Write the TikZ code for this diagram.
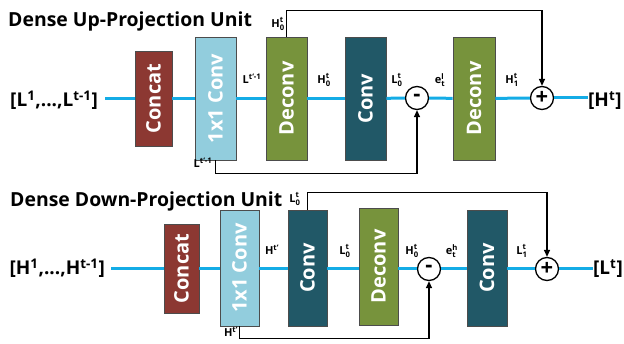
\documentclass[tikz,border=0pt]{standalone}
\usepackage{fontspec}
\setmainfont{Open Sans}
\usepackage{amsmath}
\usetikzlibrary{arrows.meta}
\definecolor{cconcat}{RGB}{140,56,50}
\definecolor{conexone}{RGB}{146,205,221}
\definecolor{cdeconv}{RGB}{119,147,60}
\definecolor{cconv}{RGB}{33,88,103}
\definecolor{cline}{RGB}{20,172,230}
\newcommand\lab[3]{${\text{#1}\vphantom{\text{H}}}^{\text{#2}}_{\text{#3}}$}
\begin{document}
\begin{tikzpicture}[x=1pt,y=-1pt,
  blk/.style={draw=gray!60!black, line width=0.6pt, text=white, inner sep=0pt,
    font=\fontsize{20}{20}\selectfont\bfseries},
  opc/.style={circle, draw=black, fill=white, line width=1.3pt, minimum size=23pt,
    inner sep=0pt, font=\fontsize{22}{22}\selectfont\bfseries},
  sm/.style={font=\fontsize{11}{11}\selectfont\bfseries, inner sep=0pt},
  ttl/.style={font=\fontsize{19.4}{19.4}\selectfont\bfseries, inner sep=0pt},
  io/.style={font=\fontsize{19}{19}\selectfont\bfseries, inner sep=0pt},
  bl/.style={draw=cline, line width=3pt},
  conn/.style={draw=black, line width=1.3pt},
  arr/.style={conn, -{Triangle[length=7pt,width=6pt]}}
]
\useasboundingbox (0,0) rectangle (624,344);

% ---------- Up-projection ----------
\node[ttl, anchor=base west] (t1) at (8,27) {Dense Up-Projection Unit};
\node[io, anchor=base east] (in1) at (98,107) {[L\textsuperscript{1},...,L\textsuperscript{t-1}]};
\node[io, anchor=base west] (out1) at (588,107) {[H\textsuperscript{t}]};

\node[blk, fill=cconcat, minimum width=37pt, minimum height=95pt] (cat1) at (153.5,98.5) {\rotatebox{90}{Concat}};
\node[blk, fill=conexone, minimum width=41pt, minimum height=123pt] (one1) at (215.5,98.5) {\rotatebox{90}{1x1 Conv}};
\node[blk, fill=cdeconv, minimum width=41pt, minimum height=123pt] (dec1) at (286.5,98.5) {\rotatebox{90}{Deconv}};
\node[blk, fill=cconv, minimum width=41pt, minimum height=123pt] (cnv1) at (365.5,98.5) {\rotatebox{90}{Conv}};
\node[opc] (min1) at (417,98) {\raisebox{1pt}{-}};
\node[blk, fill=cdeconv, minimum width=42pt, minimum height=123pt] (dec2) at (474,98.5) {\rotatebox{90}{Deconv}};
\node[opc] (pls1) at (542,98) {+};

\draw[bl] (in1.east |- cat1.west) ++(7,0) -- (cat1.west);
\draw[bl] (cat1) -- (one1);
\draw[bl] (one1) -- (dec1);
\draw[bl] (dec1) -- (cnv1);
\draw[bl] (cnv1) -- (min1);
\draw[bl] (min1) -- (dec2);
\draw[bl] (dec2) -- (pls1);
\draw[bl] (pls1) -- (out1.west |- pls1.east);

\draw[arr] (dec1.north) -- ++(0,-26) -| (pls1.north);
\draw[arr] (one1.south) -- ++(0,13) -| (min1.south);

\node[sm] (l1a) at (252,80) {\lab{L}{t`-1}{}};
\node[sm] (l1b) at (324,80) {\lab{H}{t}{0}};
\node[sm] (l1c) at (397,80) {\lab{L}{t}{0}};
\node[sm] (l1d) at (440,80) {\lab{e}{l}{t}};
\node[sm] (l1e) at (512,80) {\lab{H}{t}{1}};
\node[sm] (l1f) at (278,24) {\lab{H}{t}{0}};
\node[sm] (l1g) at (203,164) {\lab{L}{t`-1}{}};

% ---------- Down-projection ----------
\node[ttl, anchor=base west] (t2) at (10,207) {Dense Down-Projection Unit};
\node[io, anchor=base east] (in2) at (105,275) {[H\textsuperscript{1},...,H\textsuperscript{t-1}]};
\node[io, anchor=base west] (out2) at (593,275) {[L\textsuperscript{t}]};

\node[blk, fill=cconcat, minimum width=35pt, minimum height=89pt] (cat2) at (181.5,268.5) {\rotatebox{90}{Concat}};
\node[blk, fill=conexone, minimum width=39pt, minimum height=116pt] (one2) at (239.5,268) {\rotatebox{90}{1x1 Conv}};
\node[blk, fill=cconv, minimum width=39pt, minimum height=116pt] (cnv2) at (307.5,268) {\rotatebox{90}{Conv}};
\node[blk, fill=cdeconv, minimum width=39pt, minimum height=117pt] (dec3) at (378.5,266.5) {\rotatebox{90}{Deconv}};
\node[opc] (min2) at (429,269) {\raisebox{1pt}{-}};
\node[blk, fill=cconv, minimum width=40pt, minimum height=116pt] (cnv3) at (487,268) {\rotatebox{90}{Conv}};
\node[opc] (pls2) at (547,269) {+};

\draw[bl] (in2.east |- min2.west) ++(6,0) -- (cat2.west |- min2.west);
\draw[bl] (cat2.east |- min2.west) -- (one2.west |- min2.west);
\draw[bl] (one2.east |- min2.west) -- (cnv2.west |- min2.west);
\draw[bl] (cnv2.east |- min2.west) -- (dec3.west |- min2.west);
\draw[bl] (dec3.east |- min2.west) -- (min2.west);
\draw[bl] (min2) -- (cnv3.west |- min2.west);
\draw[bl] (cnv3.east |- pls2.west) -- (pls2);
\draw[bl] (pls2) -- (out2.west |- pls2.east);

\draw[arr] (cnv2.north) -- ++(0,-17) -| (pls2.north);
\draw[arr] (one2.south) -- ++(0,12) -| (min2.south);

\node[sm] (l2a) at (272,251) {\lab{H}{t`}{}};
\node[sm] (l2b) at (345,251) {\lab{L}{t}{0}};
\node[sm] (l2c) at (412,251) {\lab{H}{t}{0}};
\node[sm] (l2d) at (452,251) {\lab{e}{h}{t}};
\node[sm] (l2e) at (522,251) {\lab{L}{t}{1}};
\node[sm] (l2f) at (295,199) {\lab{L}{t}{0}};
\node[sm] (l2g) at (231,333) {\lab{H}{t`}{}};
\end{tikzpicture}
\end{document}
